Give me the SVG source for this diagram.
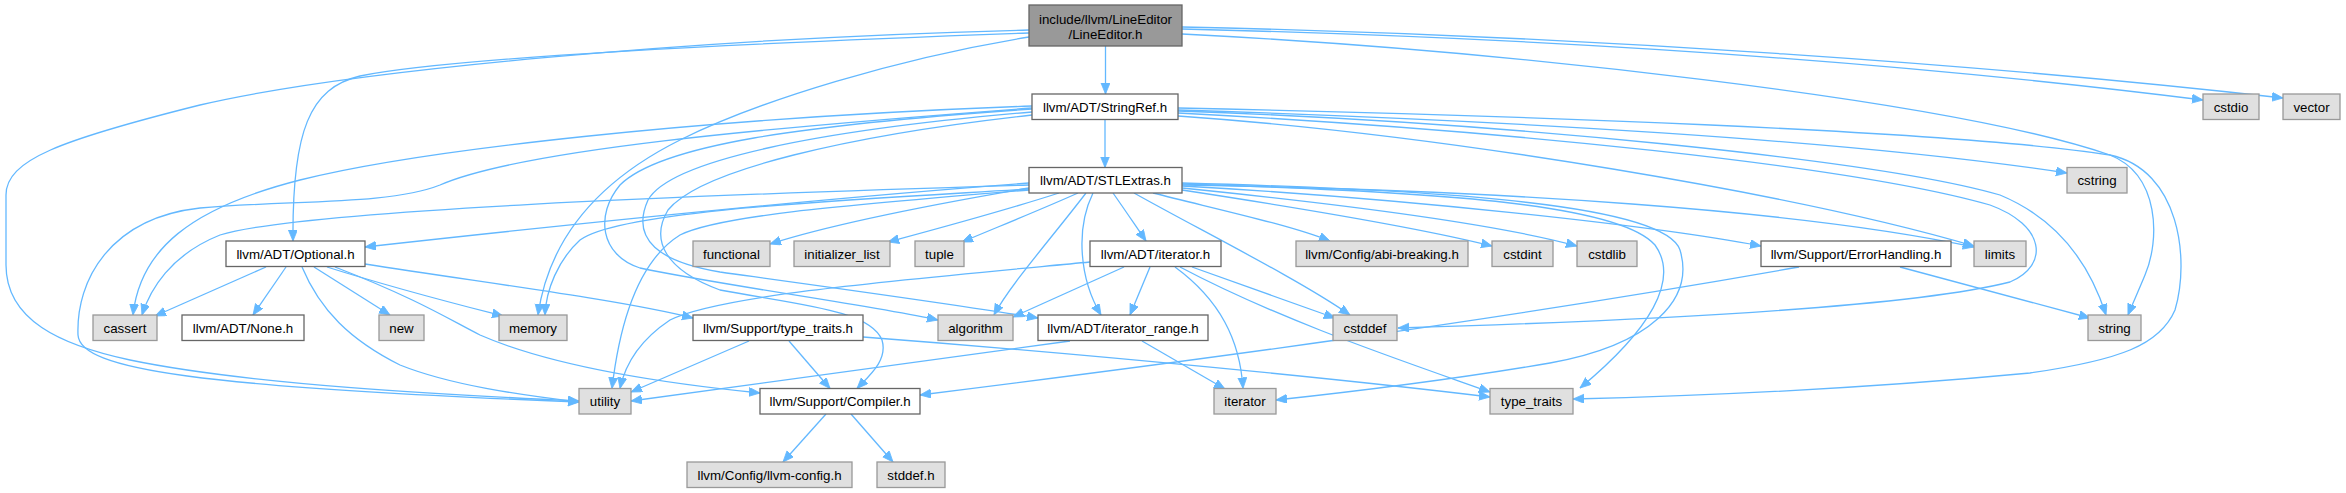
<svg xmlns="http://www.w3.org/2000/svg" width="2346" height="493" viewBox="0 0 2346 493">
<style>
.e{fill:none;stroke:#63b8ff;stroke-width:1.3}
.w{fill:#ffffff;stroke:#666666;stroke-width:1.3}
.g{fill:#e0e0e0;stroke:#999999;stroke-width:1.3}
.r{fill:#999999;stroke:#666666;stroke-width:1.3}
text{font-family:"Liberation Sans",Arial,Helvetica,sans-serif;font-size:13.3px;text-anchor:middle;fill:#000000}
</style>
<defs>
<marker id="a" markerUnits="userSpaceOnUse" markerWidth="12" markerHeight="10" refX="11" refY="4.5" orient="auto">
<polygon points="0,0 11,4.5 0,9" fill="#63b8ff" stroke="#63b8ff" stroke-width="0.8"/>
</marker>
</defs>
<rect width="2346" height="493" fill="#ffffff"/>
<g id="edges" marker-end="url(#a)">
<path class="e" d="M1105.5,46 L1105.5,94"/>
<path class="e" d="M1182,29 C1550,38 1900,62 2203,100"/>
<path class="e" d="M1182,27 C1600,36 2000,66 2283,98"/>
<path class="e" d="M1182,34 C1500,50 1950,100 2110,155 C2160,175 2160,240 2145,275 C2138,292 2132,305 2128,315"/>
<path class="e" d="M1029,37 C900,58 760,100 680,140 C590,185 548,245 538,315"/>
<path class="e" d="M1029,33 C750,43 450,58 360,76 C310,88 292,130 293,241"/>
<path class="e" d="M1029,30 C700,38 350,70 200,105 C60,140 6,160 6,195 L6,265 C6,320 60,345 130,360 C250,385 450,395 579,401"/>
<path class="e" d="M1105,119.5 L1105,167.5"/>
<path class="e" d="M1178,110 C1500,120 1850,140 2067,173"/>
<path class="e" d="M1178,116 C1450,135 1800,195 1974,246"/>
<path class="e" d="M1178,111 C1500,122 1880,160 2000,195 C2060,220 2090,265 2106,315"/>
<path class="e" d="M1178,113 C1500,130 1850,165 1990,205 C2045,225 2050,265 2010,282 C1900,310 1600,322 1398,328"/>
<path class="e" d="M1178,108 C1500,115 1950,130 2110,155 C2180,170 2190,260 2175,310 C2160,345 2120,360 2030,373 C1850,390 1700,396 1573,399"/>
<path class="e" d="M1032,106 C700,118 420,150 300,180 C190,208 140,250 133,315"/>
<path class="e" d="M1032,108 C760,128 520,150 440,185 C390,205 290,200 200,208 C110,218 76,280 78,335 C80,370 200,387 579,402"/>
<path class="e" d="M1032,109 C800,125 660,145 620,185 C595,215 600,255 640,268 C720,285 870,305 938,320"/>
<path class="e" d="M1032,112 C820,130 670,160 648,200 C630,240 660,262 720,272 C850,290 960,305 1038,318"/>
<path class="e" d="M1032,115 C850,135 700,170 668,210 C650,240 665,270 720,290 C800,305 870,310 882,340 C888,360 870,375 857,388.5"/>
<path class="e" d="M1029,183 C800,200 500,232 365,247"/>
<path class="e" d="M1029,188 C900,210 820,228 770,244"/>
<path class="e" d="M1059,193 C1000,212 940,228 888,242"/>
<path class="e" d="M1078,193 C1040,210 1000,226 962,242"/>
<path class="e" d="M1113,193 C1125,210 1135,225 1146,241"/>
<path class="e" d="M1153,193 C1220,210 1290,225 1330,241"/>
<path class="e" d="M1182,190 C1300,208 1420,228 1492,246"/>
<path class="e" d="M1182,188 C1350,205 1500,225 1577,246"/>
<path class="e" d="M1182,186 C1400,198 1650,225 1761,246"/>
<path class="e" d="M1182,185 C1500,190 1800,210 1974,247"/>
<path class="e" d="M1182,184 C1450,192 1620,205 1655,245 C1680,280 1650,330 1580,388"/>
<path class="e" d="M1182,183 C1450,190 1665,205 1680,250 C1695,300 1650,345 1550,363 C1450,380 1350,392 1276,400"/>
<path class="e" d="M1134,193 C1200,230 1300,280 1350,315"/>
<path class="e" d="M1093,193 C1075,230 1080,280 1101,315"/>
<path class="e" d="M1086,193 C1050,240 1010,285 994,315"/>
<path class="e" d="M1029,190 C850,205 720,215 680,235 C640,260 620,320 612,388.5"/>
<path class="e" d="M1029,189 C850,200 620,210 580,240 C558,260 546,290 545,315"/>
<path class="e" d="M1029,185 C700,195 300,210 220,235 C170,255 150,290 142,315"/>
<path class="e" d="M266,267 L155,316"/>
<path class="e" d="M286,267 L253,315"/>
<path class="e" d="M314,267 L390,315"/>
<path class="e" d="M327,267 C400,290 460,305 503,316"/>
<path class="e" d="M302,267 C320,310 350,340 400,365 C450,385 520,395 579,402"/>
<path class="e" d="M335,267 C420,300 450,320 480,335 C560,370 680,385 760,393"/>
<path class="e" d="M365,264 C500,285 620,300 693,318"/>
<path class="e" d="M749,341 L631,392"/>
<path class="e" d="M789,341 L830,388.5"/>
<path class="e" d="M863,337 C1100,355 1350,380 1490,397"/>
<path class="e" d="M1124,267 L1013,317"/>
<path class="e" d="M1150,267 L1130,315"/>
<path class="e" d="M1192,267 L1335,318"/>
<path class="e" d="M1175,267 C1220,300 1240,340 1243,388.5"/>
<path class="e" d="M1180,267 C1280,320 1400,360 1490,392"/>
<path class="e" d="M1090,262 C900,280 720,295 670,320 C640,340 625,365 620,388.5"/>
<path class="e" d="M1070,341 C900,365 750,385 631,401"/>
<path class="e" d="M1142,341 L1225,389"/>
<path class="e" d="M1900,267 L2090,318"/>
<path class="e" d="M1799,267 C1500,320 1200,360 920,395"/>
<path class="e" d="M826,414 L783,462"/>
<path class="e" d="M851,414 L893,462"/>
</g>
<g id="n_root"><rect class="r" x="1029" y="5" width="153" height="41"/><text x="1105.5" y="23.5">include/llvm/LineEditor</text><text x="1105.5" y="38.5">/LineEditor.h</text></g>
<g id="n_stringref"><rect class="w" x="1032" y="94" width="146" height="25.5"/><text x="1105" y="111.5">llvm/ADT/StringRef.h</text></g>
<g id="n_cstdio"><rect class="g" x="2203" y="94" width="56" height="25.5"/><text x="2231" y="111.5">cstdio</text></g>
<g id="n_vector"><rect class="g" x="2283" y="94" width="57" height="25.5"/><text x="2311.5" y="111.5">vector</text></g>
<g id="n_stlextras"><rect class="w" x="1029" y="167.5" width="153" height="25.5"/><text x="1105.5" y="185">llvm/ADT/STLExtras.h</text></g>
<g id="n_cstring"><rect class="g" x="2067" y="167.5" width="60" height="25.5"/><text x="2097" y="185">cstring</text></g>
<g id="n_optional"><rect class="w" x="226" y="241" width="139" height="25.5"/><text x="295.5" y="258.5">llvm/ADT/Optional.h</text></g>
<g id="n_functional"><rect class="g" x="693" y="241" width="77" height="25.5"/><text x="731.5" y="258.5">functional</text></g>
<g id="n_initializer_list"><rect class="g" x="794" y="241" width="96" height="25.5"/><text x="842" y="258.5">initializer_list</text></g>
<g id="n_tuple"><rect class="g" x="915" y="241" width="49" height="25.5"/><text x="939.5" y="258.5">tuple</text></g>
<g id="n_iterator_h"><rect class="w" x="1090" y="241" width="131" height="25.5"/><text x="1155.5" y="258.5">llvm/ADT/iterator.h</text></g>
<g id="n_abi"><rect class="g" x="1296" y="241" width="172" height="25.5"/><text x="1382" y="258.5">llvm/Config/abi-breaking.h</text></g>
<g id="n_cstdint"><rect class="g" x="1492" y="241" width="61" height="25.5"/><text x="1522.5" y="258.5">cstdint</text></g>
<g id="n_cstdlib"><rect class="g" x="1577" y="241" width="60" height="25.5"/><text x="1607" y="258.5">cstdlib</text></g>
<g id="n_errorhandling"><rect class="w" x="1761" y="241" width="190" height="25.5"/><text x="1856" y="258.5">llvm/Support/ErrorHandling.h</text></g>
<g id="n_limits"><rect class="g" x="1974" y="241" width="52" height="25.5"/><text x="2000" y="258.5">limits</text></g>
<g id="n_cassert"><rect class="g" x="93" y="315" width="64" height="25.5"/><text x="125" y="332.5">cassert</text></g>
<g id="n_none"><rect class="w" x="182" y="315" width="122" height="25.5"/><text x="243" y="332.5">llvm/ADT/None.h</text></g>
<g id="n_new"><rect class="g" x="379" y="315" width="45" height="25.5"/><text x="401.5" y="332.5">new</text></g>
<g id="n_memory"><rect class="g" x="499" y="315" width="68" height="25.5"/><text x="533" y="332.5">memory</text></g>
<g id="n_support_type_traits"><rect class="w" x="693" y="315" width="170" height="25.5"/><text x="778" y="332.5">llvm/Support/type_traits.h</text></g>
<g id="n_algorithm"><rect class="g" x="938" y="315" width="75" height="25.5"/><text x="975.5" y="332.5">algorithm</text></g>
<g id="n_iterator_range"><rect class="w" x="1038" y="315" width="170" height="25.5"/><text x="1123" y="332.5">llvm/ADT/iterator_range.h</text></g>
<g id="n_cstddef"><rect class="g" x="1333" y="315" width="64" height="25.5"/><text x="1365" y="332.5">cstddef</text></g>
<g id="n_string"><rect class="g" x="2088" y="315" width="53" height="25.5"/><text x="2114.5" y="332.5">string</text></g>
<g id="n_utility"><rect class="g" x="579" y="388.5" width="52" height="25.5"/><text x="605" y="406">utility</text></g>
<g id="n_compiler"><rect class="w" x="760" y="388.5" width="160" height="25.5"/><text x="840" y="406">llvm/Support/Compiler.h</text></g>
<g id="n_iterator"><rect class="g" x="1214" y="388.5" width="62" height="25.5"/><text x="1245" y="406">iterator</text></g>
<g id="n_type_traits"><rect class="g" x="1490" y="388.5" width="83" height="25.5"/><text x="1531.5" y="406">type_traits</text></g>
<g id="n_llvm_config"><rect class="g" x="687" y="462" width="165" height="25.5"/><text x="769.5" y="479.5">llvm/Config/llvm-config.h</text></g>
<g id="n_stddef"><rect class="g" x="877" y="462" width="68" height="25.5"/><text x="911" y="479.5">stddef.h</text></g>
</svg>
